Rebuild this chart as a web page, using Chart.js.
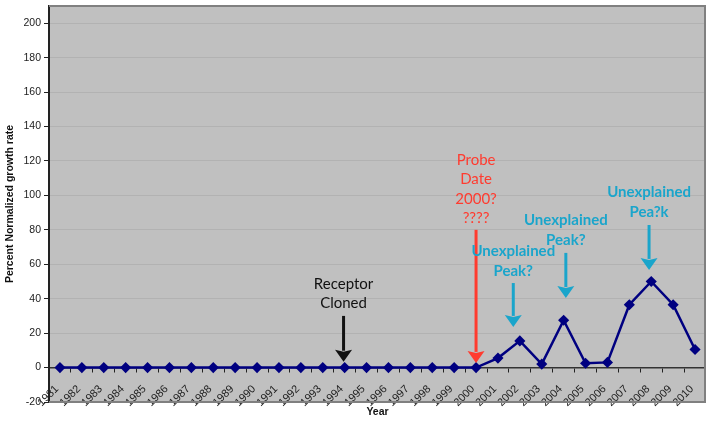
<!DOCTYPE html>
<html>
<head>
<meta charset="utf-8">
<script src="https://cdn.jsdelivr.net/npm/chart.js@4/dist/chart.umd.min.js"></script>
<style>
  html, body { margin: 0; padding: 0; background: #ffffff; overflow: hidden; }
</style>
</head>
<body>
<canvas id="c" width="706" height="425"></canvas>
<script>
// ---- data ----
const years = ['1981','1982','1983','1984','1985','1986','1987','1988','1989','1990',
               '1991','1992','1993','1994','1995','1996','1997','1998','1999','2000',
               '2001','2002','2003','2004','2005','2006','2007','2008','2009','2010'];
const growthRate = [0,0,0,0,0,0,0,0,0,0,
                    0,0,0,0,0,0,0,0,0,0,
                    5.5,15.5,2,27.5,2.5,3,36.5,50,36.5,10.5];
const yTickValues = [-20,0,20,40,60,80,100,120,140,160,180,200];

// annotation texts and where they point (category position, values on the y scale)
const noteLines  = [['Receptor','Cloned'], ['Probe','Date','2000?','????'], ['Unexplained','Peak?'], ['Unexplained','Peak?'], ['Unexplained','Pea?k']];
const noteX      = [12.95, 19.0, 20.7, 23.1, 26.9];
const noteTextY  = [48.6, 120.5, 67.7, 85.7, 101.8];
const noteArrowFrom = [30, 80, 49.1, 66.6, 82.8];
const noteArrowTo   = [3.4, 2.7, 23.6, 40.4, 56.7];
const noteKind   = ['black', 'red', 'cyan', 'cyan', 'cyan'];

const kindStyle = {
  black: { color: '#111111', font: '15px Lato', spacing: 19.5 },
  red:   { color: '#FF3B2F', font: '15px Lato', spacing: 19.5 },
  cyan:  { color: '#1AA5CB', font: 'bold 15px Lato', spacing: 20 }
};

const bgPlugin = {
  id: 'plotBg',
  beforeDraw(chart) {
    const {ctx, chartArea: a} = chart;
    ctx.save();
    ctx.fillStyle = '#C0C0C0';
    ctx.fillRect(a.left, a.top, a.right - a.left, a.bottom - a.top);
    ctx.restore();
  },
  afterDraw(chart) {
    const {ctx, chartArea: a} = chart;
    ctx.save();
    ctx.strokeStyle = '#808080';
    ctx.lineWidth = 2;
    ctx.beginPath();
    ctx.moveTo(a.left, a.top);
    ctx.lineTo(a.right - 1, a.top);
    ctx.lineTo(a.right - 1, a.bottom);
    ctx.lineTo(a.left, a.bottom);
    ctx.stroke();
    ctx.restore();
  }
};

const notePlugin = {
  id: 'notes',
  afterDatasetsDraw(chart) {
    const {ctx} = chart;
    const xs = chart.scales.x, ys = chart.scales.y;
    ctx.save();
    for (let i = 0; i < noteLines.length; i++) {
      const st = kindStyle[noteKind[i]];
      const px = xs.getPixelForValue(noteX[i]);
      const ty = ys.getPixelForValue(noteTextY[i]);
      ctx.fillStyle = st.color;
      ctx.strokeStyle = st.color;
      ctx.font = st.font;
      ctx.textAlign = 'center';
      ctx.textBaseline = 'middle';
      noteLines[i].forEach((ln, k) => ctx.fillText(ln, px, ty + k * st.spacing));
      const y1 = ys.getPixelForValue(noteArrowFrom[i]);
      const y2 = ys.getPixelForValue(noteArrowTo[i]);
      const headH = 12, headW = 8.5;
      ctx.lineWidth = 3;
      ctx.beginPath();
      ctx.moveTo(px, y1);
      ctx.lineTo(px, y2 - headH + 1);
      ctx.stroke();
      ctx.beginPath();
      ctx.moveTo(px - headW, y2 - headH);
      ctx.lineTo(px, y2);
      ctx.lineTo(px + headW, y2 - headH);
      ctx.lineTo(px, y2 - headH + 2);
      ctx.closePath();
      ctx.fill();
    }
    ctx.restore();
  }
};

new Chart(document.getElementById('c'), {
  type: 'line',
  data: {
    labels: years,
    datasets: [{
      data: growthRate,
      borderColor: '#000080',
      backgroundColor: '#000080',
      borderWidth: 2.5,
      pointStyle: 'rectRot',
      pointRadius: 3.8,
      pointHoverRadius: 3.8,
      tension: 0,
      clip: false
    }]
  },
  options: {
    responsive: false,
    animation: false,
    layout: { autoPadding: false, padding: { top: 6, right: 0, bottom: 7, left: 0 } },
    plugins: { legend: { display: false }, tooltip: { enabled: false } },
    scales: {
      x: {
        type: 'category',
        position: { y: 0 },
        offset: true,
        afterFit(s) { s.paddingLeft = 0; s.paddingRight = 0; },
        grid: { display: true, drawOnChartArea: false, drawTicks: true, tickLength: 4, tickColor: '#222', offset: true, lineWidth: 1 },
        border: { display: true, color: '#333', width: 1.5 },
        ticks: {
          autoSkip: false, minRotation: 45, maxRotation: 45,
          color: '#222', padding: 11, labelOffset: -3,
          font: { family: 'Liberation Sans', size: 11 }
        }
      },
      x2: {
        type: 'category',
        labels: years,
        position: 'bottom',
        grid: { display: false, drawTicks: false },
        border: { display: false },
        ticks: { display: false },
        title: { display: true, text: 'Year', color: '#111', padding: { top: 3, bottom: 0 },
                 font: { family: 'Liberation Sans', size: 10.5, weight: 'bold' } },
        afterFit(s) { s.height = 16; s.paddingLeft = 0; s.paddingRight = 0; }
      },
      y: {
        min: -20, max: 210,
        afterBuildTicks(s) { s.ticks = yTickValues.map(v => ({ value: v })); },
        afterFit(s) { s.width = 49; s.paddingTop = 0; s.paddingBottom = 0; },
        grid: { color: '#B2B2B2', lineWidth: 1, drawTicks: true, tickLength: 5, tickColor: '#222' },
        border: { display: true, color: '#222', width: 2 },
        ticks: { color: '#222', padding: 3, font: { family: 'Liberation Sans', size: 10.5 } },
        title: { display: true, text: 'Percent Normalized growth rate', color: '#111',
                 padding: { top: 4, bottom: 4 },
                 font: { family: 'Liberation Sans', size: 10.5, weight: 'bold' } }
      }
    }
  },
  plugins: [bgPlugin, notePlugin]
});
</script>
</body>
</html>
